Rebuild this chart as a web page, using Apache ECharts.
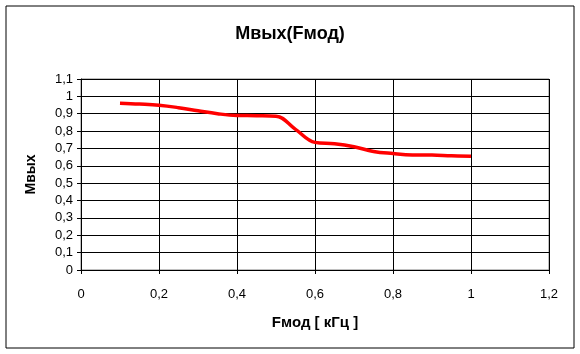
<!DOCTYPE html>
<html>
<head>
<meta charset="utf-8">
<script src="https://cdn.jsdelivr.net/npm/echarts@6/dist/echarts.min.js"></script>
<style>
  html, body { margin: 0; padding: 0; background: #fff; }
  #chart { width: 580px; height: 354px; }
</style>
</head>
<body>
<div id="chart"></div>
<script>
// частота модуляции, кГц
var fmod = [0.1, 0.15, 0.2, 0.25, 0.3, 0.35, 0.4, 0.45, 0.5, 0.55, 0.6, 0.65, 0.7, 0.75, 0.8, 0.85, 0.9, 0.95, 1.0];
// коэффициент модуляции на выходе
var mvyh = [0.961, 0.956, 0.949, 0.935, 0.917, 0.9, 0.89, 0.889, 0.886, 0.81, 0.735, 0.727, 0.71, 0.683, 0.671, 0.663, 0.662, 0.658, 0.655];

var points = [];
for (var i = 0; i < fmod.length; i++) {
    points.push([fmod[i], mvyh[i]]);
}

function comma(v) {
    return String(Number(v.toFixed(2))).replace('.', ',');
}

var myChart = echarts.init(document.getElementById('chart'));
var option = {
    backgroundColor: '#fff',
    animation: false,
    textStyle: { fontFamily: 'Liberation Sans, Arial, sans-serif' },
    title: {
        text: 'Мвых(Fмод)',
        left: 'center',
        top: 20,
        textStyle: { fontSize: 18, fontWeight: 'bold', color: '#000' }
    },
    graphic: [{
        type: 'rect',
        shape: { x: 6, y: 6, width: 568, height: 342 },
        style: { fill: 'none', stroke: '#000', lineWidth: 1 },
        silent: true
    }],
    grid: {
        left: 81, top: 79, right: 31, bottom: 84,
        show: true,
        borderColor: '#808080',
        borderWidth: 1
    },
    xAxis: {
        type: 'value',
        min: 0, max: 1.2, interval: 0.2,
        name: 'Fмод [ кГц ]',
        nameLocation: 'middle',
        nameGap: 45,
        nameTextStyle: { fontSize: 15, fontWeight: 'bold', color: '#000' },
        axisLine: { show: true, lineStyle: { color: '#000' } },
        axisTick: { show: true, inside: false, length: 4, lineStyle: { color: '#000' } },
        axisLabel: { color: '#000', fontSize: 13, margin: 18, formatter: comma },
        splitLine: { show: true, lineStyle: { color: '#000', width: 1 } }
    },
    yAxis: {
        type: 'value',
        min: 0, max: 1.1, interval: 0.1,
        name: 'Мвых',
        nameLocation: 'middle',
        nameGap: 43,
        nameRotate: 90,
        nameTextStyle: { fontSize: 14, fontWeight: 'bold', color: '#000' },
        axisLine: { show: true, lineStyle: { color: '#000' } },
        axisTick: { show: true, inside: false, length: 4, lineStyle: { color: '#000' } },
        axisLabel: { color: '#000', fontSize: 13, margin: 8, formatter: comma },
        splitLine: { show: true, lineStyle: { color: '#000', width: 1 } }
    },
    series: [{
        name: 'Мвых',
        type: 'line',
        data: points,
        smooth: 0.4,
        symbol: 'none',
        lineStyle: { color: '#ff0000', width: 3.5 }
    }]
};
myChart.setOption(option);
</script>
</body>
</html>
